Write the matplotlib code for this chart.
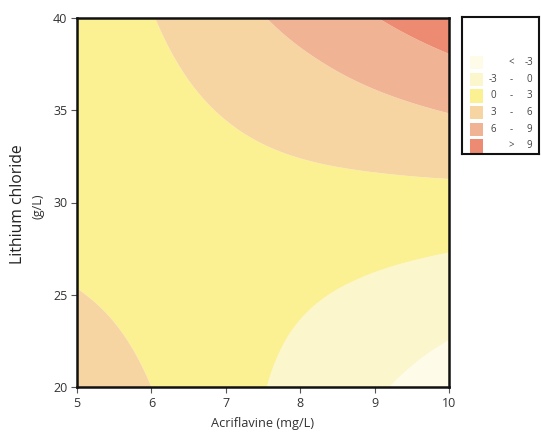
import numpy as np
import matplotlib.pyplot as plt
import matplotlib.tri as mtri
from matplotlib.patches import Rectangle

# response surface, at the tick grid
acriflavine = [5, 6, 7, 8, 9, 10]
lithium = [20, 25, 30, 35, 40]
response = [
    [5.03, 3.00, 1.04, -0.84, -2.65, -4.40],
    [3.12, 2.15, 1.27, 0.36, -0.58, -1.53],
    [1.62, 1.83, 1.96, 2.03, 2.03, 2.00],
    [0.91, 2.08, 3.16, 4.20, 5.20, 6.15],
    [0.90, 2.90, 4.90, 6.90, 8.90, 10.90],
]

levels = [-20, -3, 0, 3, 6, 9, 20]
band_colors = ['#fefce8', '#fbf6cc', '#fbf193', '#f7d5a3', '#f0b495', '#ed8b72']
legend_rows = [('', '<', '-3'), ('-3', '-', '0'), ('0', '-', '3'),
               ('3', '-', '6'), ('6', '-', '9'), ('', '>', '9')]

plt.rcParams['font.family'] = ['Open Sans', 'DejaVu Sans']

fig = plt.figure(figsize=(5.41, 4.33), dpi=100)
ax = fig.add_axes([77 / 541, 46 / 433, 372 / 541, 369 / 433])

X, Y = np.meshgrid(acriflavine, lithium)
Z = np.array(response)
# triangulate with square cells, smooth with the cubic refiner, then map back
tri = mtri.Triangulation((X - 5).ravel(), ((Y - 20) / 5).ravel())
interp = mtri.CubicTriInterpolator(tri, Z.ravel(), kind='min_E')
refiner = mtri.UniformTriRefiner(tri)
fine_tri, fine_z = refiner.refine_field(Z.ravel(), triinterpolator=interp, subdiv=4)
fine = mtri.Triangulation(fine_tri.x + 5, fine_tri.y * 5 + 20, fine_tri.triangles)
ax.tricontourf(fine, fine_z, levels=levels, colors=band_colors, antialiased=True)

ax.set_xlim(5, 10)
ax.set_ylim(20, 40)
ax.set_xticks(acriflavine)
ax.set_yticks(lithium)
for s in ax.spines.values():
    s.set_linewidth(1.8)
    s.set_color('#111111')
ax.tick_params(direction='out', length=4, width=0.8, color='#555555',
               labelsize=9, labelcolor='#333333', pad=3)
ax.set_xlabel('Acriflavine (mg/L)', fontsize=9.2, color='#333333', labelpad=5)

fig.text(18 / 541, 1 - 204 / 433, 'Lithium chloride', rotation=90, fontsize=11.3,
         ha='center', va='center', color='#222222')
fig.text(38 / 541, 1 - 206 / 433, '(g/L)', rotation=90, fontsize=9,
         ha='center', va='center', color='#333333')

# legend box, drawn in pixel units
lg = fig.add_axes([462 / 541, 279 / 433, 77 / 541, 137 / 433])
lg.set_xlim(462, 539)
lg.set_ylim(154, 17)
lg.set_xticks([])
lg.set_yticks([])
for s in lg.spines.values():
    s.set_linewidth(1.5)
    s.set_color('#111111')
for i, (lo, sep, hi) in enumerate(legend_rows):
    yc = 62.5 + i * 16.7
    lg.add_patch(Rectangle((470, yc - 6.7), 13, 13.4, color=band_colors[i], lw=0))
    lg.text(493, yc, lo, fontsize=7, ha='center', va='center', color='#444444')
    lg.text(511, yc, sep, fontsize=7, ha='center', va='center', color='#444444')
    lg.text(529, yc, hi, fontsize=7, ha='center', va='center', color='#444444')

fig.savefig('out.png', dpi=100)
